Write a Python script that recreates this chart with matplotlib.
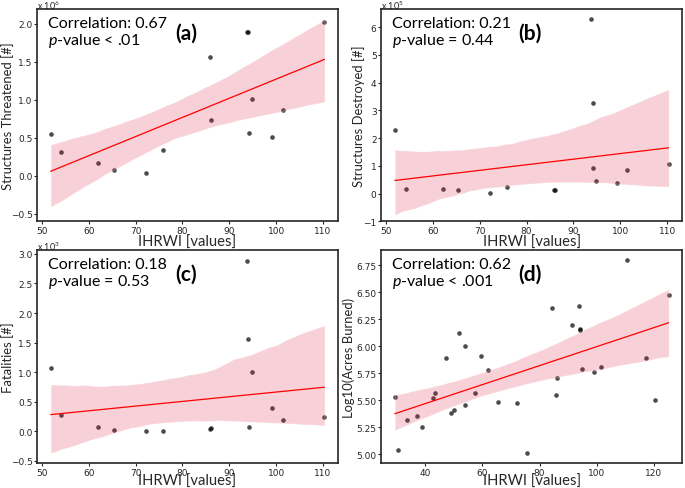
import matplotlib
matplotlib.use('Agg')
import numpy as np
import matplotlib.pyplot as plt
from matplotlib.ticker import MultipleLocator
from matplotlib.collections import PolyCollection
import seaborn as sns

sns.set_style('ticks')
plt.rcParams['font.family'] = ['DejaVu Sans']
plt.rcParams['mathtext.fontset'] = 'custom'
plt.rcParams['mathtext.rm'] = 'Lato'
plt.rcParams['mathtext.it'] = 'Lato:italic'
LABEL_FONT = 'Lato'
DARK = '#262626'

# IHRWI of the 15 fires used in panels a-c
ihrwi = [51.9, 54.2, 62.1, 65.4, 72.2, 75.8, 85.9, 86.1, 93.8, 94.1, 94.2, 94.8, 99.2, 101.4, 110.3]
threatened = [0.554e6, 0.312e6, 0.171e6, 0.075e6, 0.04e6, 0.338e6, 1.569e6, 0.73e6,
              1.90e6, 1.90e6, 0.571e6, 1.015e6, 0.514e6, 0.866e6, 2.03e6]
destroyed = [2.28e5, 0.16e5, 0.17e5, 0.12e5, 0.02e5, 0.25e5, 0.12e5, 0.12e5,
             6.30e5, 3.25e5, 0.94e5, 0.44e5, 0.38e5, 0.86e5, 1.06e5]
fatalities = [1070, 277, 68, 23, 11, 0, 34, 57, 2886, 1562, 68, 1007, 396, 181, 238]

# panel d uses a larger set of fires
ihrwi_all = [29.4, 30.6, 33.6, 37.2, 39.0, 42.9, 43.5, 47.2, 49.2, 50.0, 51.8, 54.1, 54.1,
             57.5, 59.4, 62.0, 65.3, 72.1, 75.7, 84.3, 85.8, 86.1, 91.5, 93.8, 94.1, 94.2,
             94.8, 99.2, 101.5, 110.4, 117.3, 120.2, 125.1]
log_acres = [5.53, 5.04, 5.32, 5.36, 5.25, 5.52, 5.57, 5.89, 5.38, 5.41, 6.12, 6.00, 5.46,
             5.57, 5.91, 5.78, 5.49, 5.48, 5.01, 6.36, 5.55, 5.71, 6.20, 6.37, 6.16, 6.15,
             5.79, 5.76, 5.81, 6.80, 5.89, 5.50, 6.48]

correlations = ['0.67', '0.21', '0.18', '0.62']
p_texts = ['< .01', '= 0.44', '= 0.53', '< .001']
letters = ['(a)', '(b)', '(c)', '(d)']
ylabels = ['Structures Threatened [#]', 'Structures Destroyed [#]', 'Fatalities [#]',
           'Log10(Acres Burned)']
exponents = [6, 5, 3, None]

panels = [
    (ihrwi, threatened, (-0.6, 2.2), 0.5),
    (ihrwi, destroyed, (-1.0, 6.66), 1),
    (ihrwi, fatalities, (-0.54, 3.06), 0.5),
    (ihrwi_all, log_acres, None, 0.25),
]
ylabel_x = [-0.076, -0.054, -0.076, -0.086]
xlabel_y = [-0.061, -0.061, -0.052, -0.052]

fig, axes = plt.subplots(2, 2, figsize=(6.85, 4.89), dpi=100)
plt.subplots_adjust(left=0.054, right=0.996, top=0.98, bottom=0.051, wspace=0.143, hspace=0.136)

for i, ax in enumerate(axes.flat):
    x, y, ylim, step = panels[i]
    y = np.array(y, dtype=float)
    if exponents[i] is not None:
        y = y / 10 ** exponents[i]
    sns.regplot(x=np.array(x), y=y, ax=ax, ci=95, n_boot=1000, seed=3,
                scatter_kws={'s': 11, 'color': 'black', 'alpha': 0.7, 'linewidths': 0},
                line_kws={'color': 'red', 'lw': 0.9})
    for c in ax.collections:
        if isinstance(c, PolyCollection):
            c.set_facecolor('crimson')
            c.set_alpha(0.2)
    if ylim is not None:
        ax.set_ylim(*ylim)
    ax.yaxis.set_major_locator(MultipleLocator(step))
    ax.xaxis.set_major_locator(MultipleLocator(10 if i < 3 else 20))

    for sp in ax.spines.values():
        sp.set_color(DARK)
        sp.set_linewidth(1.2)
    ax.tick_params(length=2.5, width=0.8, labelsize=6.5, colors=DARK, pad=0.8)

    ax.set_xlabel('IHRWI [values]', fontsize=10.6, family=LABEL_FONT, color=DARK)
    ax.xaxis.set_label_coords(0.5, xlabel_y[i])
    ax.set_ylabel(ylabels[i], fontsize=9.4, family=LABEL_FONT, color=DARK)
    ax.yaxis.set_label_coords(ylabel_x[i], 0.5)

    ax.text(0.037, 0.915, f'Correlation: {correlations[i]}', transform=ax.transAxes,
            ha='left', va='baseline', fontsize=11.5, family=LABEL_FONT, color='black')
    ax.text(0.037, 0.835, f'$p$-value {p_texts[i]}', transform=ax.transAxes,
            ha='left', va='baseline', fontsize=11.5, family=LABEL_FONT, color='black')
    ax.text(0.495, 0.89, letters[i], transform=ax.transAxes, ha='center', va='center',
            fontsize=15, fontweight='bold', family=LABEL_FONT, color='black')
    if exponents[i] is not None:
        ax.text(0.0, 1.0, f'x 10$^{exponents[i]}$', transform=ax.transAxes,
                ha='left', va='baseline', fontsize=6.5, family=LABEL_FONT, color=DARK)

plt.savefig('out.png', dpi=100)
